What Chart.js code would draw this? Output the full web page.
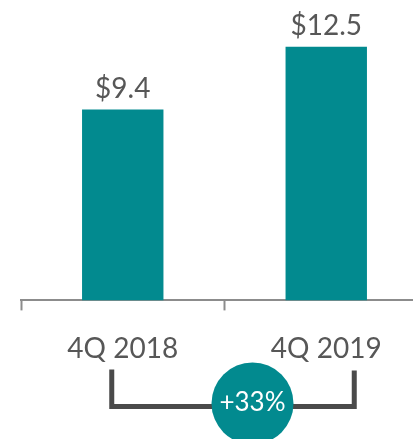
<!DOCTYPE html>
<html>
<head>
<meta charset="utf-8">
<script src="https://cdn.jsdelivr.net/npm/chart.js@4"></script>
<style>
    html, body { margin: 0; padding: 0; background: #fff; overflow: hidden; }
    #wrap { width: 432px; height: 439px; }
</style>
</head>
<body>
<div id="wrap"><canvas id="revenueChart"></canvas></div>
<script>
// Du lieu
const quarters = ['4Q 2018', '4Q 2019'];
const revenue = [9.4, 12.5];
const valueLabels = ['$9.4', '$12.5'];
const growthLabel = '+33%';

const teal = '#028a8f';
const textGrey = '#575757';
const labelFont = '28px Lato';

// Nhan gia tri tren cot
const valueLabelPlugin = {
    id: 'valueLabels',
    afterDatasetsDraw(chart) {
        const ctx = chart.ctx;
        const bars = chart.getDatasetMeta(0).data;
        ctx.save();
        ctx.font = labelFont;
        ctx.fillStyle = textGrey;
        ctx.textAlign = 'center';
        ctx.textBaseline = 'alphabetic';
        bars.forEach((bar, i) => {
            ctx.fillText(valueLabels[i], bar.x, bar.y - 12);
        });
        ctx.restore();
    }
};

// Ngoac va vong tron tang truong
const growthPlugin = {
    id: 'growthBracket',
    afterDraw(chart) {
        const ctx = chart.ctx;
        const x = chart.scales.x;
        const base = chart.chartArea.bottom;
        const left = x.getPixelForValue(0) - 11;
        const right = x.getPixelForValue(1) + 28;
        const midX = (x.getPixelForValue(0) + x.getPixelForValue(1)) / 2 + 28;
        ctx.save();
        ctx.strokeStyle = '#4a4a4a';
        ctx.lineWidth = 5;
        ctx.lineJoin = 'miter';
        ctx.beginPath();
        ctx.moveTo(left, base + 69);
        ctx.lineTo(left, base + 106);
        ctx.lineTo(right, base + 106);
        ctx.lineTo(right, base + 70);
        ctx.stroke();

        ctx.fillStyle = teal;
        ctx.beginPath();
        ctx.arc(midX, base + 103, 41, 0, Math.PI * 2);
        ctx.fill();

        ctx.fillStyle = '#fff';
        ctx.font = '26px Lato';
        ctx.textAlign = 'center';
        ctx.textBaseline = 'middle';
        ctx.fillText(growthLabel, midX, base + 102);
        ctx.restore();
    }
};

const ctx = document.getElementById('revenueChart').getContext('2d');

new Chart(ctx, {
    type: 'bar',
    data: {
        labels: quarters,
        datasets: [{
            data: revenue,
            backgroundColor: teal,
            borderWidth: 0,
            categoryPercentage: 1,
            barPercentage: 0.4
        }]
    },
    options: {
        responsive: true,
        maintainAspectRatio: false,
        animation: false,
        layout: {
            padding: { left: 21, right: 4, top: 0, bottom: 51 }
        },
        plugins: {
            legend: { display: false },
            tooltip: { enabled: false }
        },
        scales: {
            x: {
                grid: {
                    drawOnChartArea: false,
                    drawTicks: true,
                    tickLength: 10,
                    tickWidth: 2,
                    tickColor: '#8c8c8c'
                },
                border: { color: '#8c8c8c', width: 2 },
                ticks: {
                    color: textGrey,
                    font: { family: 'Lato', size: 28 },
                    padding: 22
                }
            },
            y: {
                display: false,
                min: 0,
                max: 14.8
            }
        }
    },
    plugins: [valueLabelPlugin, growthPlugin]
});
</script>
</body>
</html>
